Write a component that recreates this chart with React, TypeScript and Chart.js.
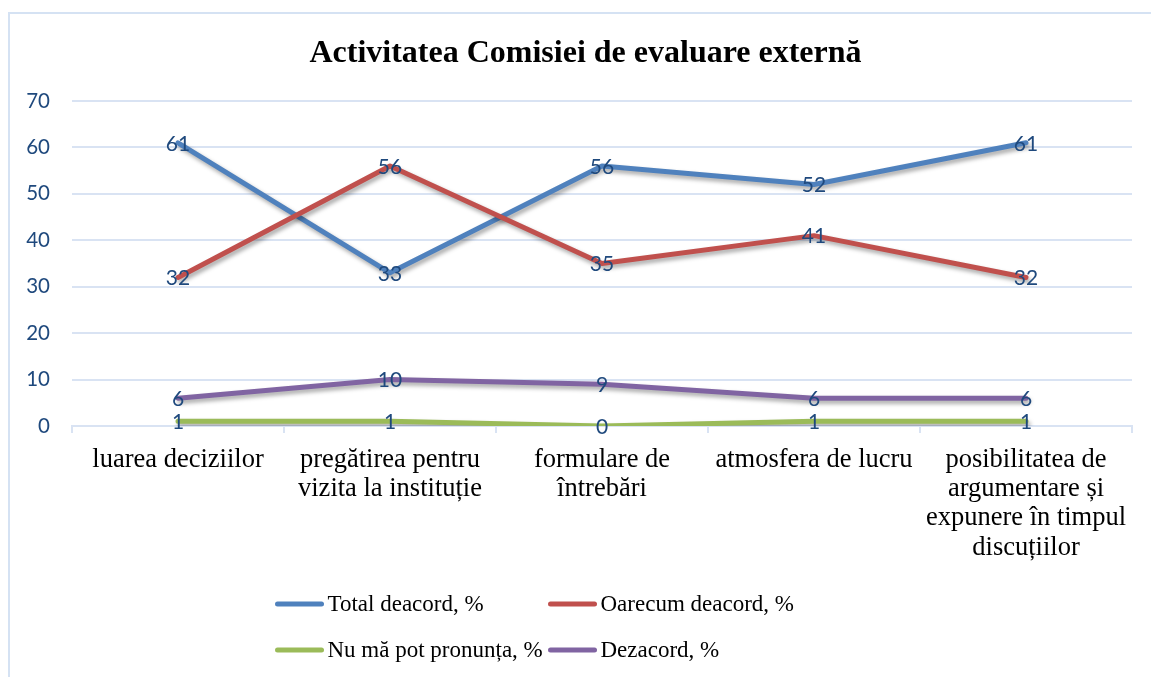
import React, { useEffect, useRef } from "react";
import { Chart, registerables } from "chart.js";

Chart.register(...registerables);

const categories: string[][] = [
  ["luarea deciziilor"],
  ["pregătirea pentru", "vizita la instituție"],
  ["formulare de", "întrebări"],
  ["atmosfera de lucru"],
  ["posibilitatea de", "argumentare și", "expunere în timpul", "discuțiilor"],
];

const seriesNames = [
  "Total deacord, %",
  "Oarecum deacord, %",
  "Nu mă pot pronunța, %",
  "Dezacord, %",
];

const totalDeacord = [61, 33, 56, 52, 61];
const oarecumDeacord = [32, 56, 35, 41, 32];
const nuMaPotPronunta = [1, 1, 0, 1, 1];
const dezacord = [6, 10, 9, 6, 6];

const yTicks = [0, 10, 20, 30, 40, 50, 60, 70];

const colors = ["#4F81BD", "#C0504D", "#9BBB59", "#8064A2"];

const chartTitle = "Activitatea Comisiei de evaluare externă";

const LABEL_COLOR = "#1F497D";
const GRID_COLOR = "#D9E3F3";

const borderPlugin = {
  id: "outerBorder",
  beforeDraw(chart: any) {
    const ctx = chart.ctx;
    ctx.save();
    ctx.fillStyle = "#ffffff";
    ctx.fillRect(0, 0, chart.width, chart.height);
    ctx.strokeStyle = "#D5E2F3";
    ctx.lineWidth = 2;
    ctx.strokeRect(9, 13, chart.width + 50, chart.height + 50);
    ctx.restore();
  },
};

const titlePlugin = {
  id: "offsetTitle",
  afterDraw(chart: any) {
    const ctx = chart.ctx;
    ctx.save();
    ctx.font = "bold 32px 'Liberation Serif'";
    ctx.fillStyle = "#000";
    ctx.textAlign = "center";
    ctx.textBaseline = "middle";
    ctx.fillText(chartTitle, chart.width / 2 + 10, 53.8);
    ctx.restore();
  },
};

const shadowPlugin = {
  id: "lineShadow",
  beforeDatasetsDraw(chart: any) {
    const ctx = chart.ctx;
    ctx.save();
    ctx.shadowColor = "rgba(0,0,0,0.35)";
    ctx.shadowBlur = 4;
    ctx.shadowOffsetX = 2;
    ctx.shadowOffsetY = 3;
  },
  afterDatasetsDraw(chart: any) {
    chart.ctx.restore();
  },
};

const dataLabelPlugin = {
  id: "pointLabels",
  afterDatasetsDraw(chart: any) {
    const ctx = chart.ctx;
    ctx.save();
    ctx.font = "21px Lato";
    ctx.fillStyle = LABEL_COLOR;
    ctx.textAlign = "center";
    ctx.textBaseline = "middle";
    chart.data.datasets.forEach((ds: any, i: number) => {
      const meta = chart.getDatasetMeta(i);
      meta.data.forEach((pt: any, j: number) => {
        ctx.fillText(String(ds.data[j]), pt.x, pt.y + 1);
      });
    });
    ctx.restore();
  },
};

const legendPlugin = {
  id: "gridLegend",
  afterDraw(chart: any) {
    const ctx = chart.ctx;
    const center = chart.width / 2;
    const startX = center - 300;
    const colW = 273;
    const rowY = [604, 650];
    ctx.save();
    ctx.font = "23px 'Liberation Serif'";
    ctx.textBaseline = "middle";
    ctx.textAlign = "left";
    chart.data.datasets.forEach((ds: any, i: number) => {
      const col = i % 2;
      const row = Math.floor(i / 2);
      const x0 = startX + col * colW;
      const y = rowY[row];
      ctx.strokeStyle = ds.borderColor;
      ctx.lineWidth = 5;
      ctx.lineCap = "round";
      ctx.beginPath();
      ctx.moveTo(x0 + 2, y);
      ctx.lineTo(x0 + 46, y);
      ctx.stroke();
      ctx.fillStyle = "#000";
      ctx.fillText(ds.label, x0 + 52, y + 1);
    });
    ctx.restore();
  },
};

export default function App() {
  const canvasRef = useRef<HTMLCanvasElement | null>(null);

  useEffect(() => {
    if (!canvasRef.current) return;
    const seriesData = [totalDeacord, oarecumDeacord, nuMaPotPronunta, dezacord];
    const chart = new Chart(canvasRef.current, {
      type: "line",
      data: {
        labels: categories as any,
        datasets: seriesData.map((d, i) => ({
          label: seriesNames[i],
          data: d,
          borderColor: colors[i],
          backgroundColor: colors[i],
          borderWidth: 5,
          pointRadius: 0,
          pointHoverRadius: 0,
          tension: 0,
          fill: false,
          borderCapStyle: "round" as const,
          borderJoinStyle: "round" as const,
          order: 4 - i,
        })),
      },
      options: {
        animation: false,
        responsive: true,
        maintainAspectRatio: false,
        layout: { padding: { left: 0, right: 19, top: 101, bottom: 0 } },
        plugins: {
          legend: { display: false },
          tooltip: { enabled: false },
          title: { display: false },
        },
        scales: {
          x: {
            type: "category",
            offset: true,
            grid: {
              display: true,
              drawOnChartArea: false,
              drawTicks: true,
              tickLength: 7,
              color: GRID_COLOR,
              lineWidth: 2,
              offset: true,
            },
            border: { display: true, color: GRID_COLOR, width: 2 },
            ticks: {
              autoSkip: false,
              maxRotation: 0,
              minRotation: 0,
              color: "#000",
              padding: 12,
              font: { family: "'Liberation Serif'", size: 26.5, lineHeight: 1.11 },
            },
            afterFit(scale: any) {
              scale.height = 251;
            },
          },
          y: {
            min: 0,
            max: 70,
            afterBuildTicks(scale: any) {
              scale.ticks = yTicks.map((v) => ({ value: v }));
            },
            grid: { color: GRID_COLOR, lineWidth: 2, drawTicks: false },
            border: { display: false },
            ticks: {
              color: LABEL_COLOR,
              padding: 22,
              font: { family: "Lato", size: 20.5 },
            },
            afterFit(scale: any) {
              scale.width = 72;
            },
          },
        },
      },
      plugins: [borderPlugin, shadowPlugin, dataLabelPlugin, legendPlugin, titlePlugin],
    });
    return () => chart.destroy();
  }, []);

  return (
    <div style={{ position: "fixed", left: 0, top: 0, width: 1151, height: 677, background: "#fff" }}>
      <canvas ref={canvasRef} />
    </div>
  );
}
